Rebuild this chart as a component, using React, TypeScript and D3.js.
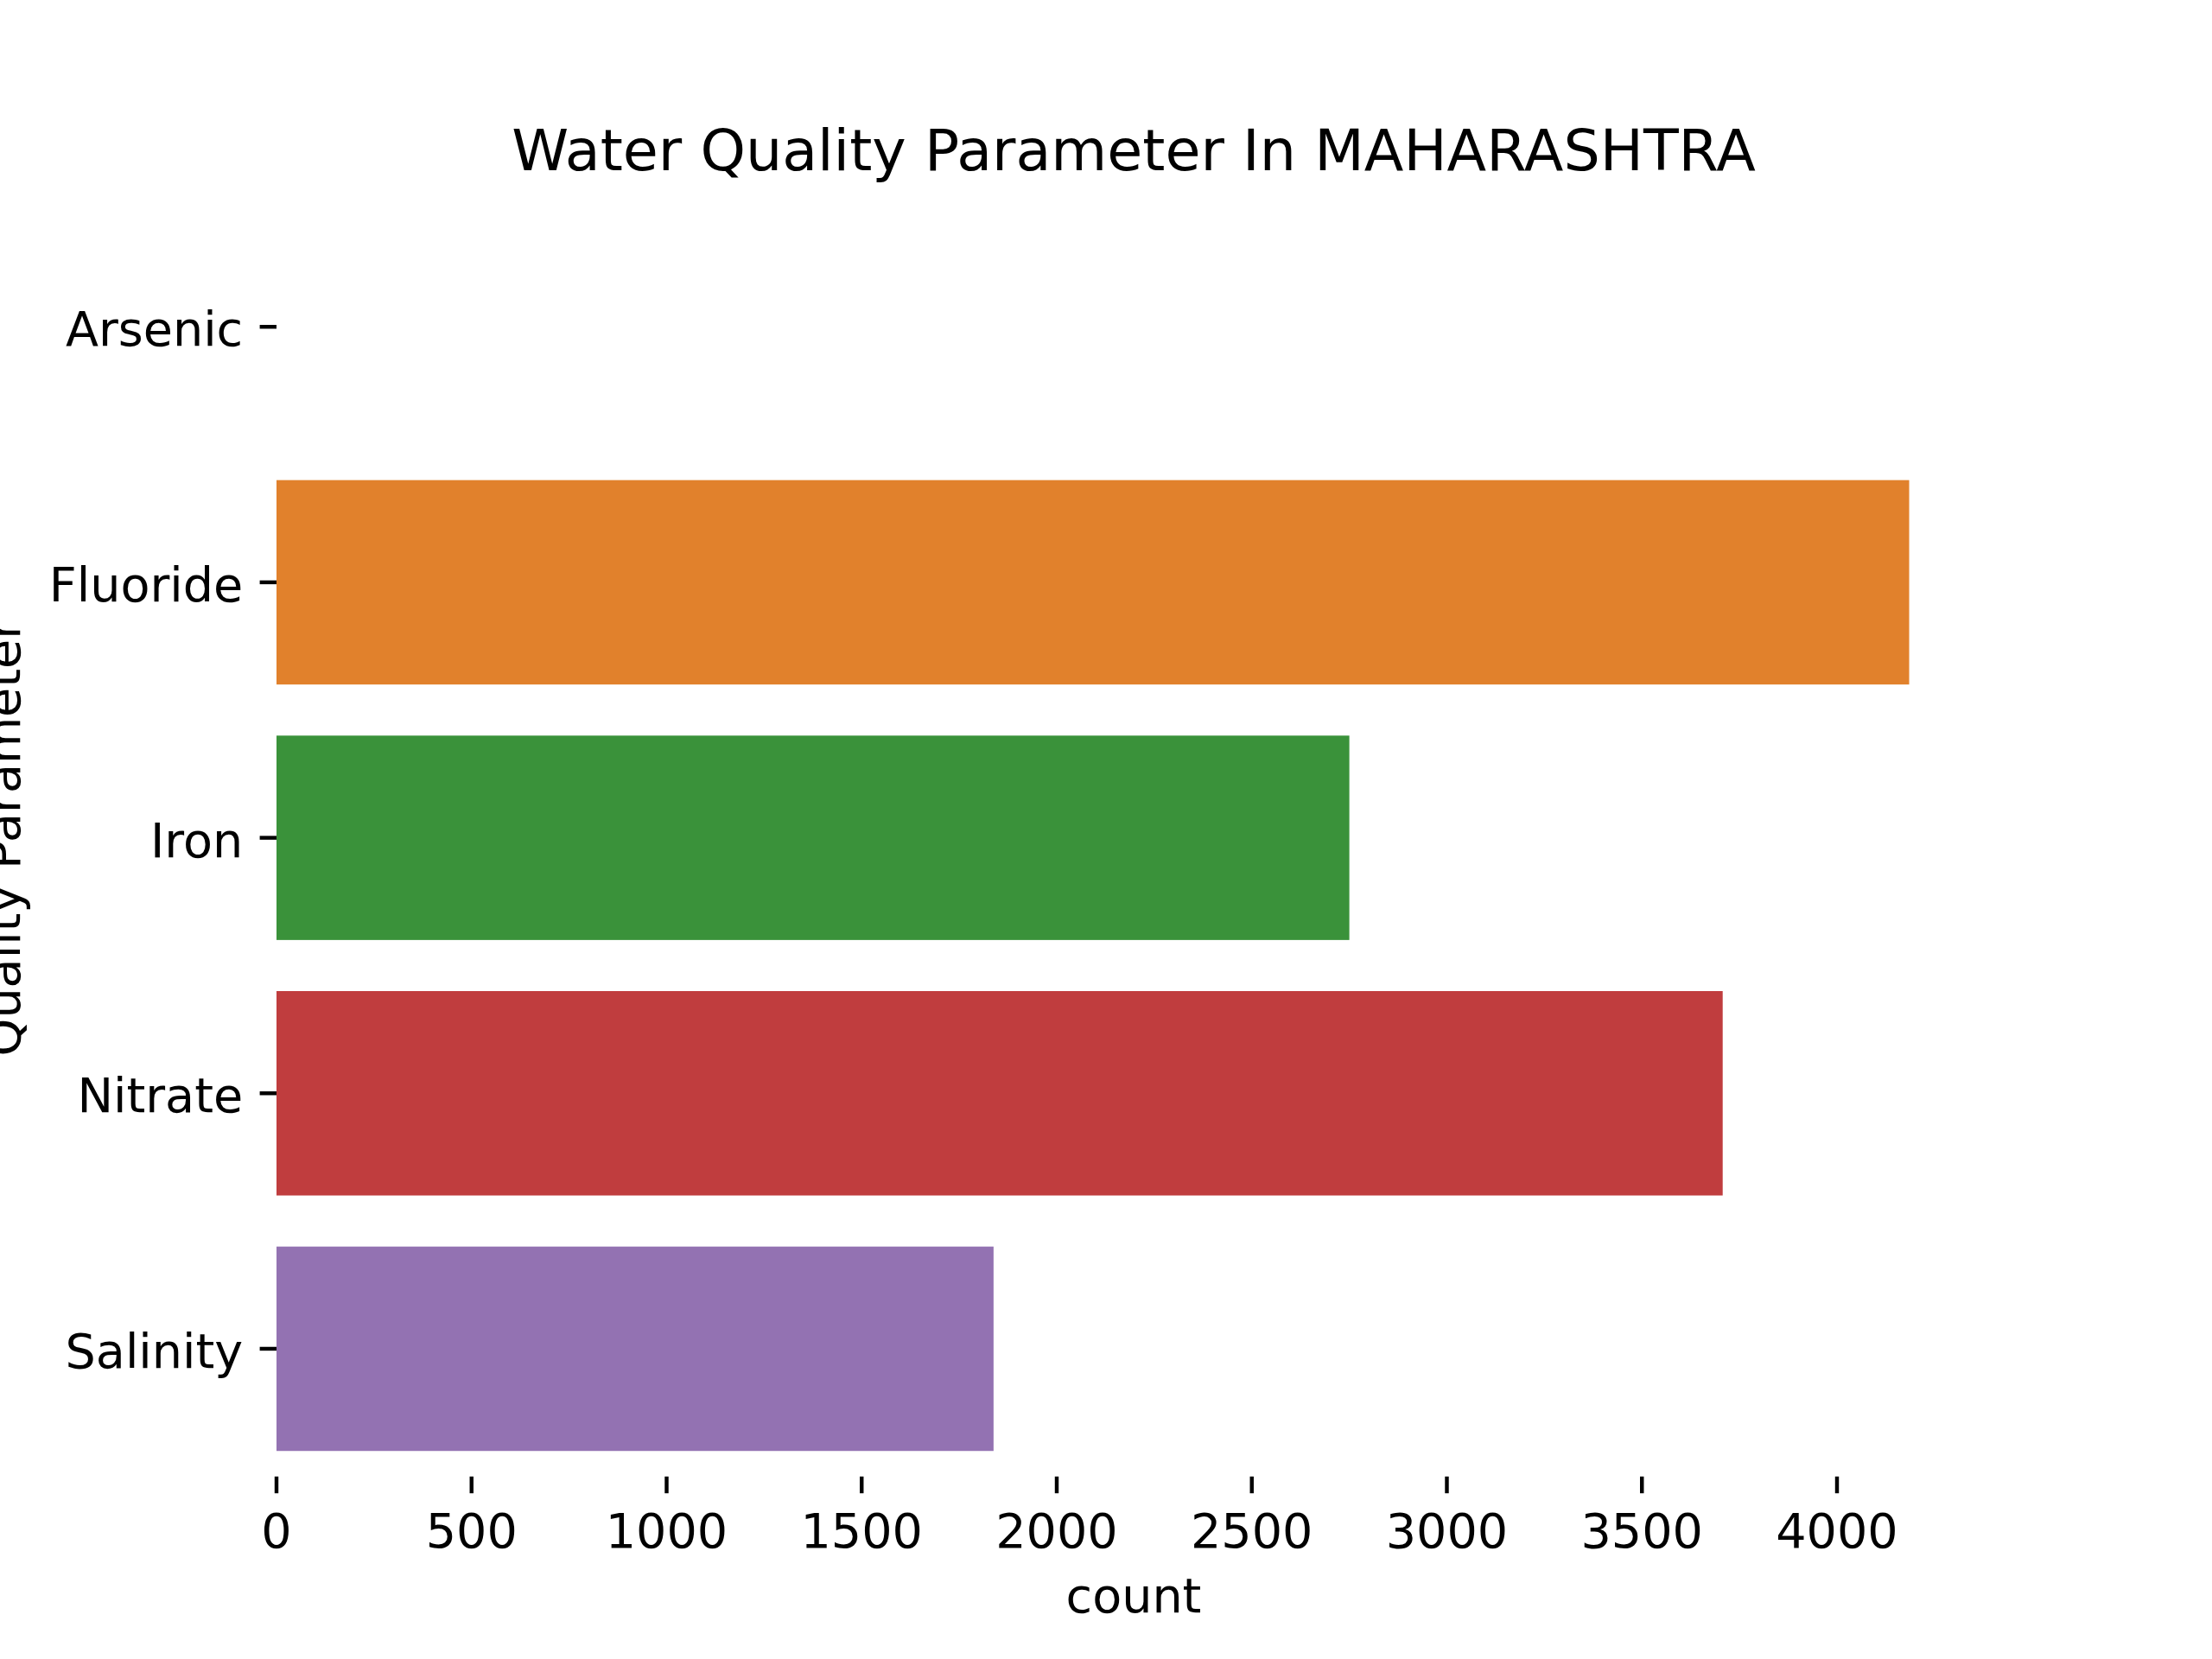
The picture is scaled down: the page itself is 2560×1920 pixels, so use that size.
import * as d3 from 'd3';

// counts per water quality parameter
const categories = ['Arsenic', 'Fluoride', 'Iron', 'Nitrate', 'Salinity'];
const counts = [0, 4185, 2750, 3707, 1838];
const colors = ['#3274a1', '#e1812c', '#3a923a', '#c03d3e', '#9372b2'];

const title = 'Water Quality Parameter In MAHARASHTRA';
const xLabel = 'count';
const yLabel = 'Quality Parameter';

const W = 2560;
const H = 1920;
const margin = { top: 230.4, right: 256, bottom: 211.2, left: 320 };
const FONT = '"DejaVu Sans", sans-serif';
const tickFont = 55.6;
const tickLen = 19.4;
const tickPad = 19.4;

export default function App() {
    const x = d3.scaleLinear()
        .domain([0, (d3.max(counts) as number) * 1.05])
        .range([margin.left, W - margin.right]);

    const y = d3.scaleBand<string>()
        .domain(categories)
        .range([margin.top, H - margin.bottom])
        .paddingInner(0.2)
        .paddingOuter(0.1);

    const axisY = H - margin.bottom;
    const xTicks = x.ticks(10);

    return (
        <svg
            width={W}
            height={H}
            style={{ position: 'absolute', left: 0, top: 0, background: '#fff' }}
            fontFamily={FONT}
        >
            <rect x={0} y={0} width={W} height={H} fill="#fff" />

            {/* bars */}
            {categories.map((c, i) => (
                <rect
                    key={c}
                    x={x(0)}
                    y={y(c)}
                    width={x(counts[i]) - x(0)}
                    height={y.bandwidth()}
                    fill={colors[i]}
                />
            ))}

            {/* y ticks + labels */}
            {categories.map(c => {
                const cy = (y(c) as number) + y.bandwidth() / 2;
                return (
                    <g key={c}>
                        <line x1={margin.left} x2={margin.left - tickLen} y1={cy} y2={cy} stroke="#000" strokeWidth={4.44} />
                        <text
                            x={margin.left - tickLen - tickPad}
                            y={cy + 22}
                            textAnchor="end"
                            fontSize={tickFont}
                            fill="#000"
                        >
                            {c}
                        </text>
                    </g>
                );
            })}

            {/* x ticks + labels */}
            {xTicks.map(t => (
                <g key={t}>
                    <line x1={x(t)} x2={x(t)} y1={axisY} y2={axisY + tickLen} stroke="#000" strokeWidth={4.44} />
                    <text x={x(t)} y={1790.5} textAnchor="middle" fontSize={tickFont} fill="#000">
                        {String(t)}
                    </text>
                </g>
            ))}

            {/* axis labels */}
            <text x={(margin.left + W - margin.right) / 2} y={1866} textAnchor="middle" fontSize={tickFont} fill="#000">
                {xLabel}
            </text>
            <text
                transform={`translate(23, ${(margin.top + axisY) / 2}) rotate(-90)`}
                textAnchor="middle"
                fontSize={tickFont}
                fill="#000"
            >
                {yLabel}
            </text>

            {/* title */}
            <text x={(margin.left + W - margin.right) / 2} y={197} textAnchor="middle" fontSize={66.7} fill="#000">
                {title}
            </text>
        </svg>
    );
}
